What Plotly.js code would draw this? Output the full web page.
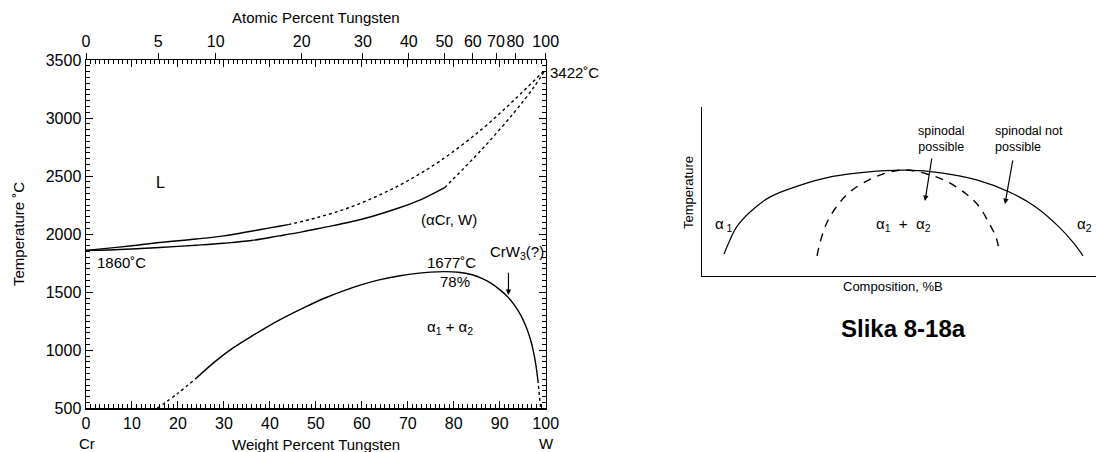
<!DOCTYPE html>
<html>
<head>
<meta charset="utf-8">
<script src="https://cdn.plot.ly/plotly-3.0.1.min.js"></script>
<style>
  html, body { margin: 0; padding: 0; background: #fff; }
  #chart { width: 1097px; height: 452px; }
</style>
</head>
<body>
<div id="chart"></div>
<script>
// ---- Cr–W phase diagram (weight percent tungsten vs temperature, °C) ----
const liquidusSolidWt = [0, 5, 10, 16, 24, 30, 34, 38, 42, 44];
const liquidusSolidT  = [1860, 1880, 1900, 1928, 1958, 1985, 2012, 2040, 2068, 2082];
const liquidusDashWt  = [44, 50, 57, 64, 70, 77, 86, 93, 100];
const liquidusDashT   = [2082, 2140, 2225, 2340, 2460, 2630, 2900, 3150, 3422];

const solidusSolidWt = [0, 5, 10, 16, 24, 30, 36, 42, 47, 52, 57, 62, 68, 73, 78];
const solidusSolidT  = [1860, 1864, 1872, 1885, 1905, 1922, 1945, 1985, 2020, 2060, 2100, 2150, 2225, 2300, 2400];
const solidusDashWt  = [78, 86, 93, 97.5, 100];
const solidusDashT   = [2400, 2725, 3041, 3270, 3422];

// miscibility gap α1 + α2
const gapLeftDashWt = [15.5, 20, 24];
const gapLeftDashT  = [500, 630, 760];
const gapSolidWt = [24, 28, 32, 36, 40, 44, 48, 52, 56, 60, 64, 68, 72, 75, 78, 81, 84, 86, 88, 90, 91.7, 93, 94.6, 95.8, 96.7, 97.3, 97.8, 98.3];
const gapSolidT  = [760, 900, 1020, 1120, 1215, 1300, 1378, 1450, 1512, 1565, 1608, 1640, 1662, 1673, 1677, 1672, 1650, 1622, 1580, 1522, 1461, 1400, 1300, 1195, 1090, 995, 890, 744];
const gapRightDashWt = [98.3, 98.9];
const gapRightDashT  = [744, 500];

// tick labels
const wtTicks = [0, 10, 20, 30, 40, 50, 60, 70, 80, 90, 100];
const tempTicks = [500, 1000, 1500, 2000, 2500, 3000, 3500];
const atomicTicks = [0, 5, 10, 20, 30, 40, 50, 60, 70, 80, 100];

// ---- schematic miscibility gap (composition vs temperature, arbitrary units) ----
const binodalX = [5.6, 6.7, 8.8, 12.2, 17.2, 24.8, 33.2, 41.7, 51.8, 61.1, 69.5, 78.0, 84.7, 90.6, 94.4, 96.7];
const binodalY = [12.9, 19.2, 29.0, 37.8, 46.6, 53.5, 58.8, 61.4, 62.5, 60.8, 56.9, 49.6, 40.8, 29.0, 19.2, 11.9];
const spinodalX = [29.2, 29.9, 31.6, 34.1, 37.5, 42.5, 47.6, 51.8, 56.9, 61.9, 67.0, 70.4, 72.9, 74.6, 75.4];
const spinodalY = [11.9, 19.2, 31.0, 40.8, 49.6, 56.9, 61.4, 62.6, 60.4, 56.1, 48.6, 40.8, 31.0, 23.1, 15.3];

// atomic % W -> weight % W (atomic masses of W and Cr)
const M_W = 183.84, M_CR = 51.996;
const atToWt = a => 100 * a * M_W / (a * M_W + (100 - a) * M_CR);

const W = 1097, H = 452;
const px = x => x / W;
const py = y => 1 - y / H;

const FONT = 'Liberation Sans, Arial, Helvetica, sans-serif';
const black = '#000';

function line(x, y, dash, xa, ya, width) {
  return {
    x: x, y: y, type: 'scatter', mode: 'lines',
    line: { color: black, width: width || 1.4, dash: dash || 'solid', shape: 'spline', smoothing: 1 },
    xaxis: xa || 'x', yaxis: ya || 'y', hoverinfo: 'skip', showlegend: false
  };
}

const traces = [
  // the liquidus is plotted against the top (atomic %) axis frame, which shares the wt% range
  line(liquidusSolidWt, liquidusSolidT, 'solid', 'x2', 'y'),
  line(liquidusDashWt, liquidusDashT, '3px,3px', 'x2', 'y'),
  line(solidusSolidWt, solidusSolidT),
  line(solidusDashWt, solidusDashT, '3px,3px'),
  line(gapLeftDashWt, gapLeftDashT, '3px,3px'),
  line(gapSolidWt, gapSolidT),
  line(gapRightDashWt, gapRightDashT, '3px,3px'),
  line(binodalX, binodalY, 'solid', 'x3', 'y3', 1.2),
  line(spinodalX, spinodalY, '8px,7px', 'x3', 'y3', 1.4)
];

const xDom = [px(86), px(545.7)];
const yDom = [py(408.3), py(60)];

const tickFont = { family: FONT, size: 16, color: black };

const layout = {
  width: W, height: H,
  margin: { l: 0, r: 0, t: 0, b: 0 },
  paper_bgcolor: '#fff', plot_bgcolor: 'rgba(0,0,0,0)',
  showlegend: false,
  font: { family: FONT, color: black },
  xaxis: {
    domain: xDom, range: [0, 100], anchor: 'y', tickangle: 0,
    tickmode: 'array', tickvals: wtTicks, ticktext: wtTicks.map(String),
    ticks: 'inside', ticklen: 7, tickwidth: 1, tickcolor: black,
    minor: { dtick: 1, ticks: 'inside', ticklen: 4, tickwidth: 1, tickcolor: black },
    showline: true, linecolor: black, linewidth: 1.5, mirror: 'ticks',
    showgrid: false, zeroline: false, tickfont: tickFont
  },
  xaxis2: {
    overlaying: 'x', anchor: 'y', side: 'top', range: [0, 100], tickangle: 0,
    tickmode: 'array', tickvals: atomicTicks.map(atToWt), ticktext: atomicTicks.map(String),
    ticks: 'outside', ticklen: 6, tickwidth: 1, tickcolor: black,
    showline: false, showgrid: false, zeroline: false, tickfont: tickFont
  },
  yaxis: {
    domain: yDom, range: [500, 3500], anchor: 'x', tickangle: 0,
    tickmode: 'array', tickvals: tempTicks, ticktext: tempTicks.map(String),
    ticks: 'inside', ticklen: 7, tickwidth: 1, tickcolor: black,
    minor: { dtick: 50, ticks: 'inside', ticklen: 4, tickwidth: 1, tickcolor: black },
    showline: true, linecolor: black, linewidth: 1.5, mirror: 'ticks',
    showgrid: false, zeroline: false, tickfont: tickFont
  },
  xaxis3: {
    domain: [px(702), px(1096)], range: [0, 100], anchor: 'y3',
    showline: true, linecolor: black, linewidth: 1.2,
    showticklabels: false, ticks: '', showgrid: false, zeroline: false
  },
  yaxis3: {
    domain: [py(276), py(106.7)], range: [0, 100], anchor: 'x3',
    showline: true, linecolor: black, linewidth: 1.2,
    showticklabels: false, ticks: '', showgrid: false, zeroline: false
  },
  annotations: []
};

function note(text, x, y, opts) {
  const a = Object.assign({
    text: text, x: x, y: y, xref: 'paper', yref: 'paper',
    showarrow: false, xanchor: 'center', yanchor: 'middle',
    font: { family: FONT, size: 15, color: black }
  }, opts || {});
  layout.annotations.push(a);
}

function arrow(x, y, ax, ay, xref, yref) {
  layout.annotations.push({
    x: x, y: y, ax: ax, ay: ay, xref: xref, yref: yref, axref: xref, ayref: yref,
    showarrow: true, arrowhead: 2, arrowsize: 0.9, arrowwidth: 1.2, arrowcolor: black, text: ''
  });
}

// axis titles and end labels
note('Atomic Percent Tungsten', px(316), py(17));
note('Weight Percent Tungsten', px(316), py(444));
note('Temperature ˚C', px(18), py(234), { textangle: -90 });
note('Cr', px(87), py(443));
note('W', px(546), py(443));
note('3422˚C', px(548), py(72), { xanchor: 'left' });

// phase field labels (data coordinates)
const dataNote = (t, x, y, o) => note(t, x, y, Object.assign({ xref: 'x', yref: 'y' }, o || {}));
dataNote('L', 16.2, 2449, { font: { family: FONT, size: 16, color: black } });
dataNote('1860˚C', 2.0, 1760, { xanchor: 'left' });
dataNote('(αCr, W)', 78.9, 2122);
dataNote('1677˚C', 79.5, 1752);
dataNote('78%', 80.2, 1588);
dataNote('CrW<sub>3</sub>(?)', 93.7, 1838);
dataNote('α<sub>1</sub> + α<sub>2</sub>', 79.1, 1200);
arrow(91.9, 1476, 91.9, 1680, 'x', 'y');

// schematic labels
const s13 = { family: FONT, size: 13, color: black };
const s12 = { family: FONT, size: 12.5, color: black };
note('Temperature', px(688), py(193), { textangle: -90, font: s13 });
note('Composition, %B', px(893), py(286), { font: s13 });
note('α<sub> 1</sub>', px(724), py(225), { font: { family: FONT, size: 15, color: black } });
note('α<sub>1</sub>  +  α<sub>2</sub>', px(903), py(225), { font: { family: FONT, size: 15, color: black } });
note('α<sub>2</sub>', px(1084), py(225), { font: { family: FONT, size: 15, color: black } });
note('spinodal<br>possible', px(941), py(139), { font: s12 });
note('spinodal not<br>possible', px(993), py(139), { font: s12, xanchor: 'left', align: 'left' });
arrow(px(925), py(201), px(932), py(157), 'paper', 'paper');
arrow(px(1005), py(204), px(1013), py(159), 'paper', 'paper');
note('<b>Slika 8-18a</b>', px(903), py(328), { font: { family: FONT, size: 24, color: black } });

Plotly.newPlot('chart', traces, layout, { staticPlot: true, displayModeBar: false });
</script>
</body>
</html>
